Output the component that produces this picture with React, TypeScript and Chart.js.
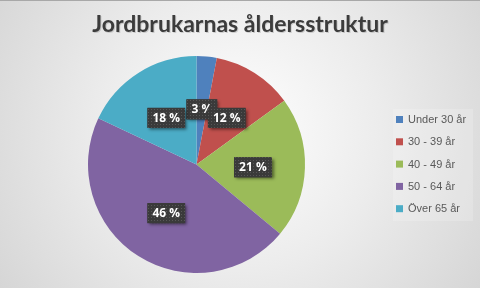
import React, { useEffect, useRef } from "react";
import { Chart, registerables } from "chart.js";

Chart.register(...registerables);

const TITLE = "Jordbrukarnas åldersstruktur";
const categories = ["Under 30 år", "30 - 39 år", "40 - 49 år", "50 - 64 år", "Över 65 år"];
const values = [3, 12, 21, 46, 18];
const colors = ["#4F81BD", "#C0504D", "#9BBB59", "#8064A2", "#4BACC6"];

function makeDotPattern(ctx: CanvasRenderingContext2D) {
  const c = document.createElement("canvas");
  c.width = 3;
  c.height = 3;
  const p = c.getContext("2d")!;
  p.fillStyle = "#3a3a3a";
  p.fillRect(0, 0, 3, 3);
  p.fillStyle = "#575757";
  p.fillRect(1, 1, 1, 1);
  return ctx.createPattern(c, "repeat");
}

const decorPlugin = {
  id: "decor",
  beforeDraw(chart: any) {
    const { ctx, width, height } = chart;
    ctx.save();
    const g = ctx.createRadialGradient(240, 130, 10, 240, 130, 300);
    g.addColorStop(0, "#fdfdfd");
    g.addColorStop(0.45, "#ececec");
    g.addColorStop(1, "#d4d4d4");
    ctx.fillStyle = g;
    ctx.fillRect(0, 0, width, height);
    ctx.fillStyle = "#a8a8a8";
    ctx.fillRect(0, 0, width, 1);

    // title
    ctx.font = "bold 23px Lato, 'Open Sans', sans-serif";
    ctx.textAlign = "center";
    ctx.textBaseline = "middle";
    ctx.fillStyle = "rgba(0,0,0,0.15)";
    ctx.fillText(TITLE, 241, 26);
    ctx.fillStyle = "#3c3c3c";
    ctx.fillText(TITLE, 240, 25);

    // legend
    ctx.fillStyle = "rgba(255,255,255,0.18)";
    ctx.fillRect(393, 109, 80, 112);
    ctx.font = "11px 'Liberation Sans', Arial, sans-serif";
    ctx.textAlign = "left";
    const labels = chart.data.labels;
    const cols = chart.data.datasets[0].backgroundColor;
    labels.forEach((l: string, i: number) => {
      const y = 119.5 + i * 22.3;
      ctx.fillStyle = cols[i];
      ctx.fillRect(396, y - 3.5, 7, 7);
      ctx.fillStyle = "#595959";
      ctx.fillText(l, 408, y + 0.5);
    });
    ctx.restore();
  },
  afterDatasetsDraw(chart: any) {
    const { ctx } = chart;
    const meta = chart.getDatasetMeta(0);
    const data = chart.data.datasets[0].data;
    const pattern = makeDotPattern(ctx);
    ctx.save();
    ctx.font = "bold 12px 'Open Sans', sans-serif";
    ctx.textAlign = "center";
    ctx.textBaseline = "middle";
    meta.data.forEach((arc: any, i: number) => {
      const { x, y, startAngle, endAngle, outerRadius } = arc.getProps(
        ["x", "y", "startAngle", "endAngle", "outerRadius"],
        true
      );
      const mid = (startAngle + endAngle) / 2;
      const r = outerRadius * 0.52;
      const cx = x + Math.cos(mid) * r;
      const cy = y + Math.sin(mid) * r + 1;
      const text = data[i] + " %";
      const w = ctx.measureText(text).width + 10;
      const h = 20;
      ctx.save();
      ctx.shadowColor = "rgba(0,0,0,0.5)";
      ctx.shadowBlur = 3;
      ctx.shadowOffsetX = 2;
      ctx.shadowOffsetY = 2;
      ctx.fillStyle = "#3a3a3a";
      ctx.fillRect(cx - w / 2, cy - h / 2, w, h);
      ctx.restore();
      ctx.fillStyle = pattern;
      ctx.fillRect(cx - w / 2, cy - h / 2, w, h);
      ctx.fillStyle = "#ffffff";
      ctx.fillText(text, cx, cy + 0.5);
    });
    ctx.restore();
  },
};

export default function App() {
  const ref = useRef<HTMLCanvasElement>(null);
  useEffect(() => {
    const chart = new Chart(ref.current!, {
      type: "pie",
      data: {
        labels: categories,
        datasets: [
          {
            data: values,
            backgroundColor: colors,
            borderWidth: 0,
          },
        ],
      },
      options: {
        animation: false,
        responsive: false,
        layout: { padding: { left: 88, right: 175, top: 56, bottom: 15 } },
        plugins: {
          legend: { display: false },
          title: { display: false },
          tooltip: { enabled: false },
        },
      },
      plugins: [decorPlugin],
    });
    return () => chart.destroy();
  }, []);
  return (
    <div style={{ position: "fixed", left: 0, top: 0, width: 480, height: 288 }}>
      <canvas ref={ref} width={480} height={288} style={{ width: 480, height: 288, display: "block" }} />
    </div>
  );
}
